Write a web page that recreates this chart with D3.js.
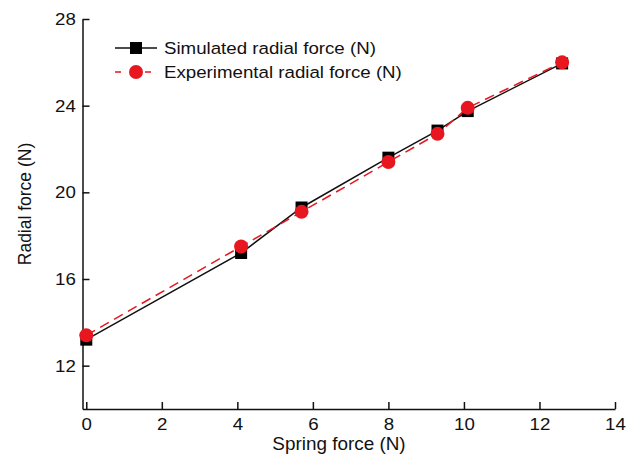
<!DOCTYPE html>
<html>
<head>
<meta charset="utf-8">
<script src="https://cdn.jsdelivr.net/npm/d3@7"></script>
<style>
  body { margin: 0; background: #fff; }
  svg text { font-family: "Liberation Sans", Arial, sans-serif; }
</style>
</head>
<body>
<div id="chart"></div>
<script>
// data
const springForce = [0, 4.1, 5.7, 8.0, 9.3, 10.1, 12.6];
const simulated = [13.2, 17.2, 19.3, 21.6, 22.85, 23.75, 25.95];
const experimental = [13.4, 17.5, 19.1, 21.4, 22.7, 23.9, 26.0];
const xTicks = [0, 2, 4, 6, 8, 10, 12, 14];
const yTicks = [12, 16, 20, 24, 28];

const W = 635, H = 456;
const red = "#e8161e";
const ink = "#111";

const svg = d3.select("#chart")
    .append("svg")
    .attr("width", W)
    .attr("height", H);

// scales
const x = d3.scaleLinear().domain([-0.1, 14]).range([82.5, 615]);
const y = d3.scaleLinear().domain([10, 28]).range([409, 19]);

// axes, ticks pointing inside; the source text is a bit wide, hence the scaleX
svg.append("g")
    .attr("transform", "translate(0," + y(10) + ")")
    .call(d3.axisBottom(x).tickValues(xTicks).tickSizeInner(-7).tickSizeOuter(0).tickPadding(9).tickFormat(d3.format("d")))
    .call(g => g.select(".domain").attr("stroke-width", 1.5).attr("stroke", ink))
    .call(g => g.selectAll(".tick line").attr("stroke-width", 1.5).attr("stroke", ink))
    .selectAll("text")
    .attr("font-size", 17)
    .attr("fill", ink)
    .attr("transform", "scale(1.1,1)");

svg.append("g")
    .attr("transform", "translate(" + x(-0.1) + ",0)")
    .call(d3.axisLeft(y).tickValues(yTicks).tickSizeInner(-7).tickSizeOuter(0).tickPadding(6).tickFormat(d3.format("d")))
    .call(g => g.select(".domain").attr("stroke-width", 1.5).attr("stroke", ink))
    .call(g => g.selectAll(".tick line").attr("stroke-width", 1.5).attr("stroke", ink))
    .selectAll("text")
    .attr("font-size", 17)
    .attr("fill", ink)
    .attr("transform", "scale(1.1,1)");

// axis titles
svg.append("text")
    .attr("transform", "translate(339,450)scale(1.08,1)")
    .attr("text-anchor", "middle")
    .attr("font-size", 17.5)
    .attr("fill", ink)
    .text("Spring force (N)");

svg.append("text")
    .attr("transform", "translate(31,204)scale(1.1,1)rotate(-90)")
    .attr("text-anchor", "middle")
    .attr("font-size", 17.5)
    .attr("fill", ink)
    .text("Radial force (N)");

const simPts = springForce.map((d, i) => [d, simulated[i]]);
const expPts = springForce.map((d, i) => [d, experimental[i]]);

const line = d3.line()
    .x(d => x(d[0]))
    .y(d => y(d[1]));

// simulated line + squares
svg.append("path")
    .datum(simPts)
    .attr("d", line)
    .attr("fill", "none")
    .attr("stroke", ink)
    .attr("stroke-width", 1.5);

svg.selectAll(".sq")
    .data(simPts)
    .enter()
    .append("rect")
    .attr("x", d => x(d[0]) - 6)
    .attr("y", d => y(d[1]) - 6)
    .attr("width", 12)
    .attr("height", 12)
    .attr("fill", "#000");

// experimental dashed line + circles
svg.append("path")
    .datum(expPts)
    .attr("d", line)
    .attr("fill", "none")
    .attr("stroke", red)
    .attr("stroke-width", 1.5)
    .attr("stroke-dasharray", "10,6");

svg.selectAll(".dot")
    .data(expPts)
    .enter()
    .append("circle")
    .attr("cx", d => x(d[0]))
    .attr("cy", d => y(d[1]))
    .attr("r", 7)
    .attr("fill", red);

// legend
const lg = svg.append("g");
lg.append("line")
    .attr("x1", 115).attr("x2", 157)
    .attr("y1", 48).attr("y2", 48)
    .attr("stroke", ink).attr("stroke-width", 1.5);
lg.append("rect")
    .attr("x", 130).attr("y", 42)
    .attr("width", 12).attr("height", 12)
    .attr("fill", "#000");
lg.append("text")
    .attr("transform", "translate(164,54)scale(1.1,1)")
    .attr("font-size", 17)
    .attr("fill", ink)
    .text("Simulated radial force (N)");

lg.append("line")
    .attr("x1", 115).attr("x2", 157)
    .attr("y1", 72).attr("y2", 72)
    .attr("stroke", red).attr("stroke-width", 1.5)
    .attr("stroke-dasharray", "6,9");
lg.append("circle")
    .attr("cx", 136).attr("cy", 72)
    .attr("r", 7)
    .attr("fill", red);
lg.append("text")
    .attr("transform", "translate(164,78)scale(1.1,1)")
    .attr("font-size", 17)
    .attr("fill", ink)
    .text("Experimental radial force (N)");
</script>
</body>
</html>
